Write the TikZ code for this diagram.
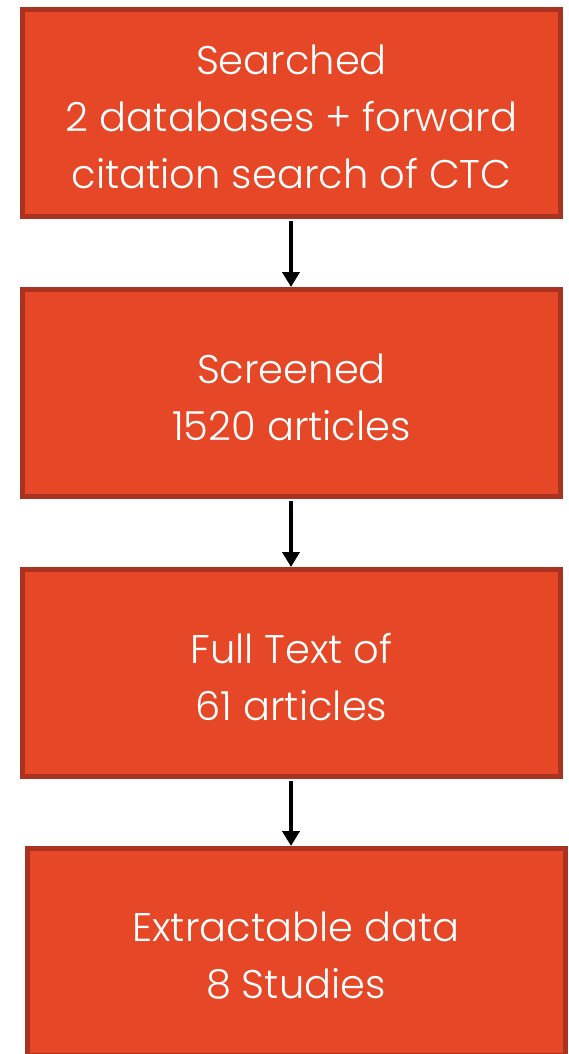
\documentclass[tikz,border=0pt]{standalone}
\usepackage{fontspec}
\setmainfont{Poppins}[UprightFont=* Light]
\usetikzlibrary{arrows.meta}
\definecolor{boxfill}{HTML}{E64827}
\definecolor{boxline}{HTML}{A93220}
\tikzset{
  stepbox/.style={draw=boxline, fill=boxfill, line width=5pt, minimum width=538pt, minimum height=207pt, inner sep=0pt},
  steptext/.style={text=white, align=center, inner sep=0pt, font=\fontsize{40}{57}\selectfont},
  flow/.style={draw=black, line width=4pt, -{Triangle[width=17pt,length=15pt]}, shorten <=2pt}
}
\begin{document}
\begin{tikzpicture}[x=1pt,y=-1pt]
\useasboundingbox (0,0) rectangle (569,1054);
\clip (0,0) rectangle (569,1054);
\node[stepbox] (a) at (291.5,113) {};
\node[stepbox] (b) at (291.5,393) {};
\node[stepbox] (c) at (291.5,673) {};
\node[stepbox] (d) at (296,952) {};
\node[steptext] (at) at ([yshift=-4pt]a.center) {Searched\\2 databases + forward\\citation search of CTC};
\node[steptext] (bt) at ([yshift=-4pt]b.center) {Screened\\1520 articles};
\node[steptext] (ct) at ([yshift=-4pt]c.center) {Full Text of\\61 articles};
\node[steptext] (dt) at ([yshift=-4pt]d.center) {Extractable data\\8 Studies};
\draw[flow] (a.south -| 291,0) -- (b.north -| 291,0);
\draw[flow] (b.south -| 291,0) -- (c.north -| 291,0);
\draw[flow] (c.south -| 291,0) -- (d.north -| 291,0);
\end{tikzpicture}
\end{document}
